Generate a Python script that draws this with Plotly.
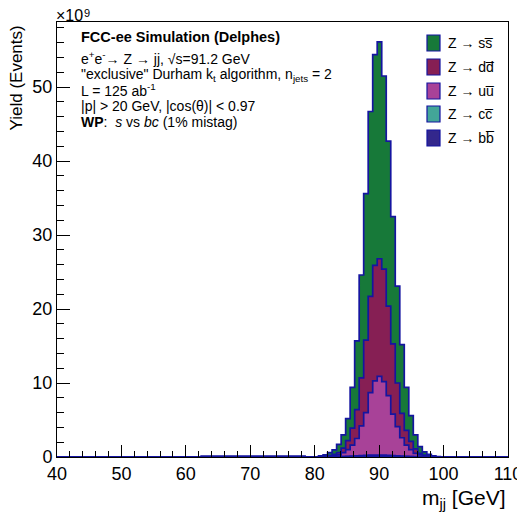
import numpy as np
import plotly.graph_objects as go

# ---------------- data (yields in units of 1e9 events) ----------------
X_MIN, X_MAX, N_BINS = 40.0, 110.0, 100     # 0.7 GeV bins
FIRST_BIN = 30                               # first listed bin: lower edge 61.0 GeV

x_ticks = [40, 50, 60, 70, 80, 90, 100, 110]
y_ticks = [0, 10, 20, 30, 40, 50]

labels = ["Z \u2192 ss\u0305", "Z \u2192 dd\u0305", "Z \u2192 uu\u0305",
          "Z \u2192 cc\u0305", "Z \u2192 bb\u0305"]

tail_zeros = [0.0] * 28

yield_bb = [0.0, 0.03, 0.04, 0.05, 0.05, 0.06, 0.06, 0.06, 0.06, 0.07,
            0.07, 0.07, 0.07, 0.07, 0.07, 0.07, 0.07, 0.06, 0.06, 0.06,
            0.06, 0.05, 0.05, 0.04, 0.04, 0.03, 0.03, 0.02,
            0.02, 0.02, 0.03, 0.03, 0.04, 0.04, 0.05, 0.06, 0.07, 0.08,
            0.09, 0.10, 0.10, 0.10, 0.10, 0.09, 0.08, 0.07, 0.06, 0.05,
            0.04, 0.03, 0.03, 0.02, 0.02, 0.01, 0.01]
yield_cc = tail_zeros + [0.0, 0.01, 0.01, 0.02, 0.02, 0.03, 0.04, 0.06, 0.08, 0.10,
                         0.12, 0.14, 0.15, 0.15, 0.14, 0.12, 0.10, 0.08, 0.06, 0.04,
                         0.03, 0.02, 0.01, 0.01, 0.01, 0.0, 0.0]
yield_uu = tail_zeros + [0.01, 0.03, 0.06, 0.12, 0.24, 0.53, 0.91, 1.48, 2.35, 4.02,
                         5.79, 8.46, 10.05, 10.65, 9.96, 8.09, 5.62, 3.95, 2.48, 1.51,
                         0.93, 0.45, 0.26, 0.09, 0.03, 0.02, 0.0]
yield_dd = tail_zeros + [0.02, 0.04, 0.10, 0.18, 0.30, 0.60, 1.20, 2.30, 3.90, 6.50,
                         9.80, 13.0, 15.6, 15.9, 15.2, 12.1, 9.50, 5.90, 3.30, 2.00,
                         1.10, 0.60, 0.20, 0.13, 0.06, 0.03, 0.02]
yield_ss = tail_zeros + [0.10, 0.20, 0.40, 0.60, 1.10, 1.80, 3.00, 5.50, 9.30, 13.9,
                         19.8, 25.0, 28.5, 29.3, 26.1, 22.3, 17.2, 13.1, 9.30, 5.80,
                         3.50, 1.90, 0.90, 0.45, 0.23, 0.09, 0.03]

fill_colors = ["#177939", "#861f54", "#a84298", "#43a698", "#33278c"]
line_color = "#1515a0"
FONT = "Liberation Sans, Arial, sans-serif"

# ---------------- histogram assembly ----------------
edges = np.linspace(X_MIN, X_MAX, N_BINS + 1)


def full(vals):
    h = np.zeros(N_BINS)
    h[FIRST_BIN:FIRST_BIN + len(vals)] = vals
    return h


comps = [full(yield_ss), full(yield_dd), full(yield_uu), full(yield_cc), full(yield_bb)]
stacks = [np.sum(comps[k:], axis=0) for k in range(5)]

fig = go.Figure()
for k in range(5):
    vals = stacks[k]
    xs = [edges[0]] + list(edges[:-1]) + [edges[-1]]
    ys = [0.0] + list(vals) + [0.0]
    fig.add_trace(go.Scatter(
        x=xs, y=ys, mode="lines", line=dict(shape="hv", color=line_color, width=1.7),
        fill="tozeroy", fillcolor=fill_colors[k], showlegend=False, hoverinfo="skip"))

# ---------------- layout ----------------
# page body has an 8 px margin: figure is placed at (8, 8) in the window
OFF = 8
W, H = 525 - OFF, 516 - OFF
L, R, T, B = 57, 508, 22, 457          # plot area in window pixels


def px(x):
    return (x - L) / (R - L)


def py(y):
    return (B - y) / (B - T)


fig.update_layout(
    width=W, height=H,
    margin=dict(l=L - OFF, r=525 - R, t=T - OFF, b=516 - B, autoexpand=False),
    paper_bgcolor="white", plot_bgcolor="white",
    font=dict(family=FONT, color="black"),
    showlegend=False,
)
fig.update_xaxes(
    range=[X_MIN, X_MAX], tickvals=x_ticks, ticktext=[str(v) for v in x_ticks],
    ticks="inside", ticklen=12, tickwidth=1, tickcolor="black",
    minor=dict(dtick=2, ticks="inside", ticklen=6, tickcolor="black", tickwidth=1),
    showline=True, linecolor="black", linewidth=1, mirror=True,
    showgrid=False, zeroline=False, tickfont=dict(size=18, family=FONT),
)
fig.update_yaxes(
    range=[0, 58.8], tickvals=y_ticks, ticktext=[str(v) for v in y_ticks],
    ticks="inside", ticklen=13, tickwidth=1, tickcolor="black",
    minor=dict(dtick=2, ticks="inside", ticklen=7, tickcolor="black", tickwidth=1),
    showline=True, linecolor="black", linewidth=1, mirror=True,
    showgrid=False, zeroline=False, tickfont=dict(size=18, family=FONT),
)

ann = []
ann.append(dict(x=px(54), y=py(16), xref="paper", yref="paper", text="\u00d710",
                showarrow=False, xanchor="left", yanchor="middle", font=dict(size=16)))
ann.append(dict(x=px(82), y=py(13), xref="paper", yref="paper", text="9",
                showarrow=False, xanchor="left", yanchor="middle", font=dict(size=11)))
ann.append(dict(x=px(16), y=py(24), xref="paper", yref="paper", text="Yield (Events)",
                textangle=-90, showarrow=False, xanchor="center", yanchor="top",
                font=dict(size=17)))
ann.append(dict(x=1.0, y=py(499), xref="paper", yref="paper", text="m<sub>jj</sub> [GeV]",
                showarrow=False, xanchor="right", yanchor="middle", font=dict(size=21)))

text_lines = [
    ("<b>FCC-ee Simulation (Delphes)</b>", 37, 14.5),
    ("e<sup>+</sup>e<sup>-</sup>\u2192 Z \u2192 jj, \u221as=91.2 GeV", 58, 14),
    ("\"exclusive\" Durham k<sub>t</sub> algorithm, n<sub>jets</sub> = 2", 75, 14),
    ("L = 125 ab<sup>-1</sup>", 90, 14),
    ("|p| > 20 GeV, |cos(\u03b8)| < 0.97", 106, 14),
    ("<b>WP</b>:  <i>s</i> vs <i>bc</i> (1% mistag)", 122, 14),
]
for txt, ypix, fs in text_lines:
    ann.append(dict(x=px(79), y=py(ypix), xref="paper", yref="paper", text=txt,
                    showarrow=False, xanchor="left", yanchor="middle", font=dict(size=fs)))

shapes = []
leg_y = [43, 67, 91, 114, 138]
for k in range(5):
    yc = leg_y[k]
    shapes.append(dict(type="rect", xref="paper", yref="paper",
                       x0=px(427), x1=px(440), y0=py(yc + 8), y1=py(yc - 8),
                       fillcolor=fill_colors[k], line=dict(color=line_color, width=1.2)))
    ann.append(dict(x=px(446), y=py(yc), xref="paper", yref="paper", text=labels[k],
                    showarrow=False, xanchor="left", yanchor="middle", font=dict(size=14)))

fig.update_layout(annotations=ann, shapes=shapes)
fig.write_html("out.html")
